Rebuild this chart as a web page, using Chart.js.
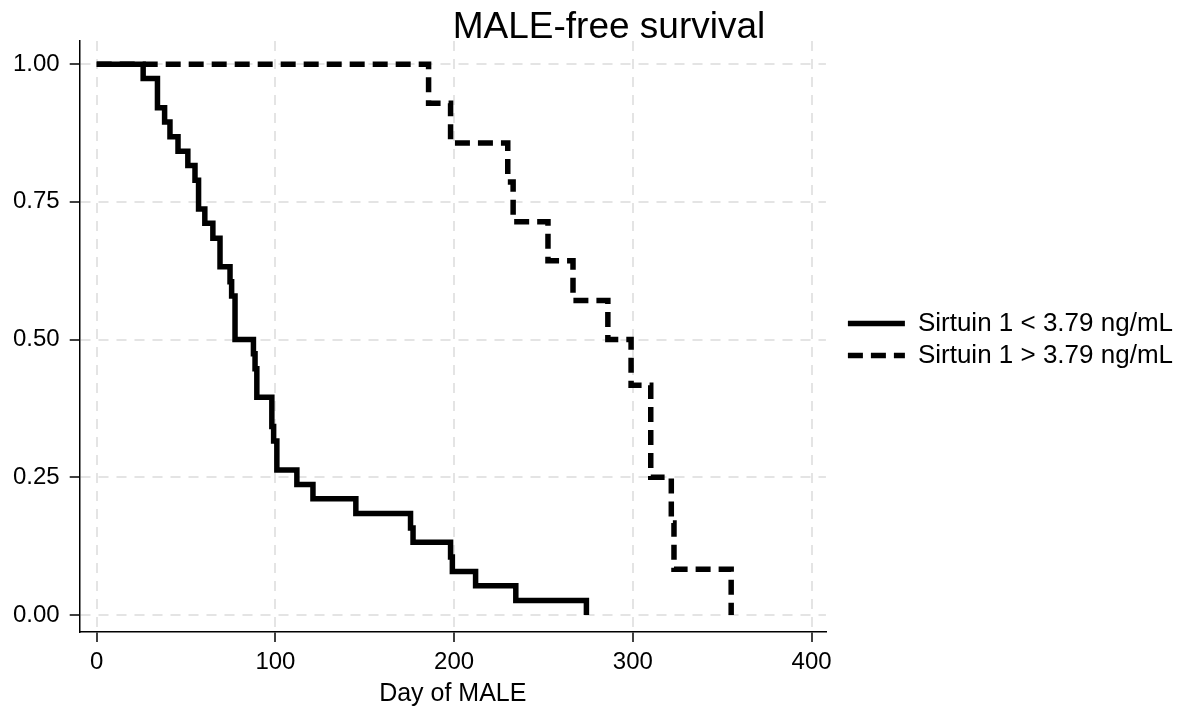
<!DOCTYPE html>
<html>
<head>
<meta charset="utf-8">
<script src="https://cdn.jsdelivr.net/npm/chart.js@4.4.1/dist/chart.umd.min.js"></script>
<style>
  html, body { margin: 0; padding: 0; background: #fff; }
  #wrap { width: 1189px; height: 711px; }
</style>
</head>
<body>
<div id="wrap"><canvas id="kmChart" width="1189" height="711"></canvas></div>
<script>
// ===== DATA =====
const lowLabel = "Sirtuin 1 < 3.79 ng/mL";
const highLabel = "Sirtuin 1 > 3.79 ng/mL";

const lowDays = [0, 26, 34, 38, 41, 45.5, 51, 55, 57, 60.5, 65, 69, 74.6, 75.5, 77.4, 87.7, 88.6, 89.6,
    98, 99, 100.8, 112, 121, 145, 175.6, 177, 198, 199, 212, 234.5, 274];
const lowSurv = [1, 0.974, 0.921, 0.895, 0.868, 0.842, 0.816, 0.789, 0.737, 0.711, 0.684, 0.632, 0.605, 0.579,
    0.5, 0.474, 0.447, 0.395, 0.342, 0.316, 0.263, 0.237, 0.211, 0.184, 0.158, 0.132, 0.105, 0.079, 0.053, 0.026, 0];

const highDays = [0, 185.7, 198, 230, 233, 252.5, 266.5, 286, 299, 310, 321.5, 323, 355];
const highSurv = [1, 0.929, 0.857, 0.786, 0.714, 0.643, 0.571, 0.5, 0.417, 0.25, 0.167, 0.083, 0];

const xTicks = [0, 100, 200, 300, 400];
const yTicks = [0, 0.25, 0.5, 0.75, 1];

// ===== HELPERS =====
function toPoints(days, surv) {
    return days.map((d, i) => ({ x: d, y: surv[i] }));
}

Chart.defaults.font.family = "'Liberation Sans', Arial, sans-serif";
Chart.defaults.color = "#000";

const gridStyle = {
    color: "#e4e4e4",
    lineWidth: 2,
    tickColor: "#000",
    tickWidth: 1.5,
    tickLength: 10,
    tickBorderDash: []
};
// in v4 the grid line dash lives on border.dash
const borderStyle = { display: true, color: "#000", width: 1.5, dash: [10, 8] };

// nudge title / legend to where the original has them
const blockShift = {
    id: "blockShift",
    afterLayout(chart) {
        const lg = chart.legend;
        lg.left += 16;
        lg.right += 16;
        lg.top -= 17;
        lg.bottom -= 17;
        const tb = chart.titleBlock;
        tb.left += 24;
        tb.right += 24;
        tb.top += 5;
        tb.bottom += 5;
    }
};

const ctx = document.getElementById("kmChart").getContext("2d");

let kmChart = new Chart(ctx, {
    type: "line",
    data: {
        datasets: [{
                label: lowLabel,
                data: toPoints(lowDays, lowSurv),
                borderColor: "#000",
                backgroundColor: "#000",
                borderWidth: 5.5,
                stepped: true,
                pointRadius: 0,
                pointStyle: "line",
                borderCapStyle: "butt",
                borderJoinStyle: "miter",
                fill: false
            },
            {
                label: highLabel,
                data: toPoints(highDays, highSurv),
                borderColor: "#000",
                backgroundColor: "#000",
                borderWidth: 5.5,
                borderDash: [15, 8],
                stepped: true,
                pointRadius: 0,
                pointStyle: "line",
                borderCapStyle: "butt",
                borderJoinStyle: "miter",
                fill: false
            }
        ]
    },
    options: {
        responsive: false,
        animation: false,
        layout: { padding: { top: 2, left: 3, right: 22, bottom: 0 } },
        scales: {
            x: {
                type: "linear",
                min: -9.5,
                max: 408,
                afterBuildTicks: (axis) => { axis.ticks = xTicks.map(v => ({ value: v })); },
                grid: gridStyle,
                border: borderStyle,
                ticks: { font: { size: 24, lineHeight: 1 }, padding: 8, maxRotation: 0 },
                title: { display: true, text: "Day of MALE", font: { size: 25, lineHeight: 1 }, padding: { top: 0, bottom: 4 } }
            },
            y: {
                type: "linear",
                min: -0.031,
                max: 1.042,
                afterBuildTicks: (axis) => { axis.ticks = yTicks.map(v => ({ value: v })); },
                grid: gridStyle,
                border: borderStyle,
                ticks: { font: { size: 24 }, padding: 10, callback: (v) => Number(v).toFixed(2) }
            }
        },
        plugins: {
            title: {
                display: true,
                text: "MALE-free survival",
                font: { size: 37, weight: "normal", lineHeight: 1 },
                padding: { top: 2, bottom: 0 }
            },
            legend: {
                display: true,
                position: "right",
                align: "center",
                maxWidth: 420,
                labels: {
                    usePointStyle: true,
                    pointStyleWidth: 57,
                    font: { size: 26 },
                    padding: 6,
                    color: "#000",
                    // point style items lose the dash, so copy it from the dataset
                    generateLabels: (chart) => {
                        const items = Chart.defaults.plugins.legend.labels.generateLabels(chart);
                        items.forEach((it) => {
                            const ds = chart.data.datasets[it.datasetIndex];
                            it.lineDash = ds.borderDash || [];
                            it.lineWidth = ds.borderWidth;
                        });
                        return items;
                    }
                }
            },
            tooltip: { enabled: false }
        }
    },
    plugins: [blockShift]
});
</script>
</body>
</html>
